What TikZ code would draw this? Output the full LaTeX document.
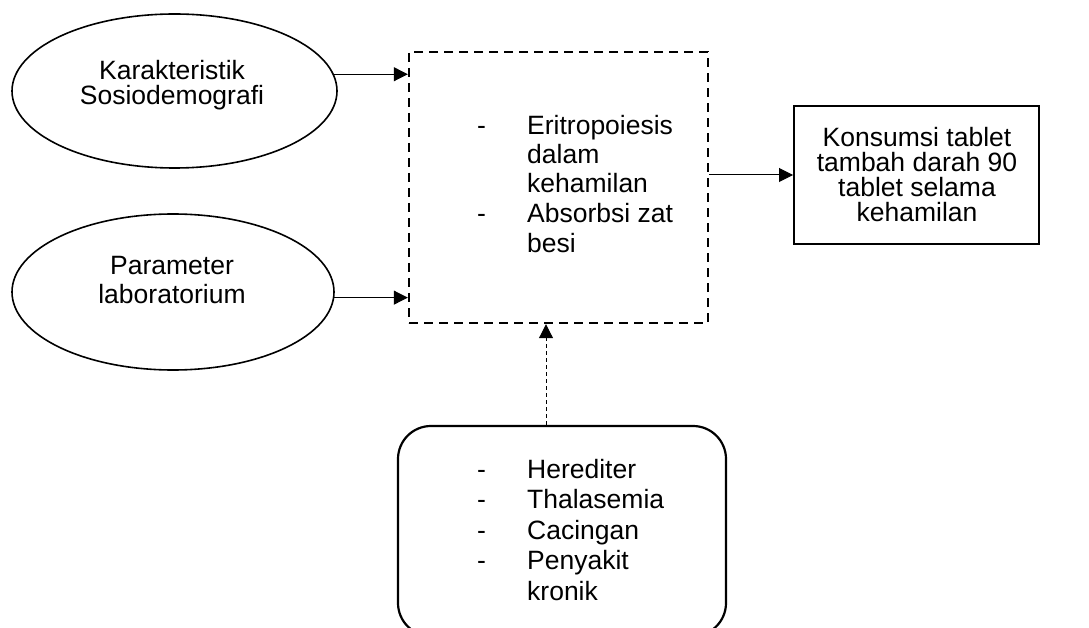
\documentclass[tikz,border=0pt]{standalone}
\usepackage{fontspec}
\setmainfont{Liberation Sans}
\usetikzlibrary{arrows.meta,shapes.geometric}
\begin{document}
\begin{tikzpicture}[x=1pt,y=-1pt,
  txt/.style={font=\fontsize{26.5}{30}\selectfont, inner sep=0pt, anchor=base},
  ltxt/.style={txt, anchor=base west},
  oval/.style={draw, ellipse, line width=1.6pt, inner sep=0pt},
  dbox/.style={draw, line width=2.4pt, dash pattern=on 9pt off 6pt, inner sep=0pt},
  sbox/.style={draw, line width=2pt, inner sep=0pt},
  rbox/.style={draw, line width=2.2pt, rounded corners=33pt, inner sep=0pt},
  arr/.style={line width=1pt, -{Triangle[length=14pt,width=14pt]}},
  darr/.style={arr, dash pattern=on 4pt off 3pt}
]
\useasboundingbox (0,0) rectangle (1089,628);
% shapes
\node[oval, minimum width=325pt, minimum height=154pt] (k) at (174.5,91) {};
\node[oval, minimum width=322pt, minimum height=156pt] (p) at (173,292) {};
\node[dbox, minimum width=299pt, minimum height=271pt] (d) at (558.5,187.5) {};
\node[sbox, minimum width=245pt, minimum height=138pt] (r) at (916.5,175) {};
\node[rbox, minimum width=328pt, minimum height=210pt] (b) at (562,531) {};
% ellipse texts
\node[txt] (k1) at (172,80) {Karakteristik};
\node[txt] (k2) at (172,105) {Sosiodemografi};
\node[txt] (p1) at (172,275) {Parameter};
\node[txt] (p2) at (172,303) {laboratorium};
% right box text
\node[txt] (r1) at (917,147) {Konsumsi tablet};
\node[txt] (r2) at (917,172) {tambah darah 90};
\node[txt] (r3) at (917,197) {tablet selama};
\node[txt] (r4) at (917,222) {kehamilan};
% dashed box text
\node[ltxt] (dm1) at (477,135) {-};
\node[ltxt] (d1) at (527,135) {Eritropoiesis};
\node[ltxt] (d2) at (527,164) {dalam};
\node[ltxt] (d3) at (527,193) {kehamilan};
\node[ltxt] (dm2) at (477,223) {-};
\node[ltxt] (d4) at (527,223) {Absorbsi zat};
\node[ltxt] (d5) at (527,253) {besi};
% bottom box text
\node[ltxt] (bm1) at (477,478) {-};
\node[ltxt] (b1) at (527,478) {Herediter};
\node[ltxt] (bm2) at (477,508) {-};
\node[ltxt] (b2) at (527,508) {Thalasemia};
\node[ltxt] (bm3) at (477,539) {-};
\node[ltxt] (b3) at (527,539) {Cacingan};
\node[ltxt] (bm4) at (477,569) {-};
\node[ltxt] (b4) at (527,569) {Penyakit};
\node[ltxt] (b5) at (527,600) {kronik};
% connectors
\draw[arr] (k.6) -- (k.6 -| d.west);
\draw[arr] (p.-2) -- (p.-2 -| d.west);
\draw[arr] (r.west -| d.east) -- (r.west);
\coordinate (bt) at ([xshift=-16pt]b.north);
\draw[darr] (bt) -- (bt |- d.south);
\end{tikzpicture}
\end{document}
